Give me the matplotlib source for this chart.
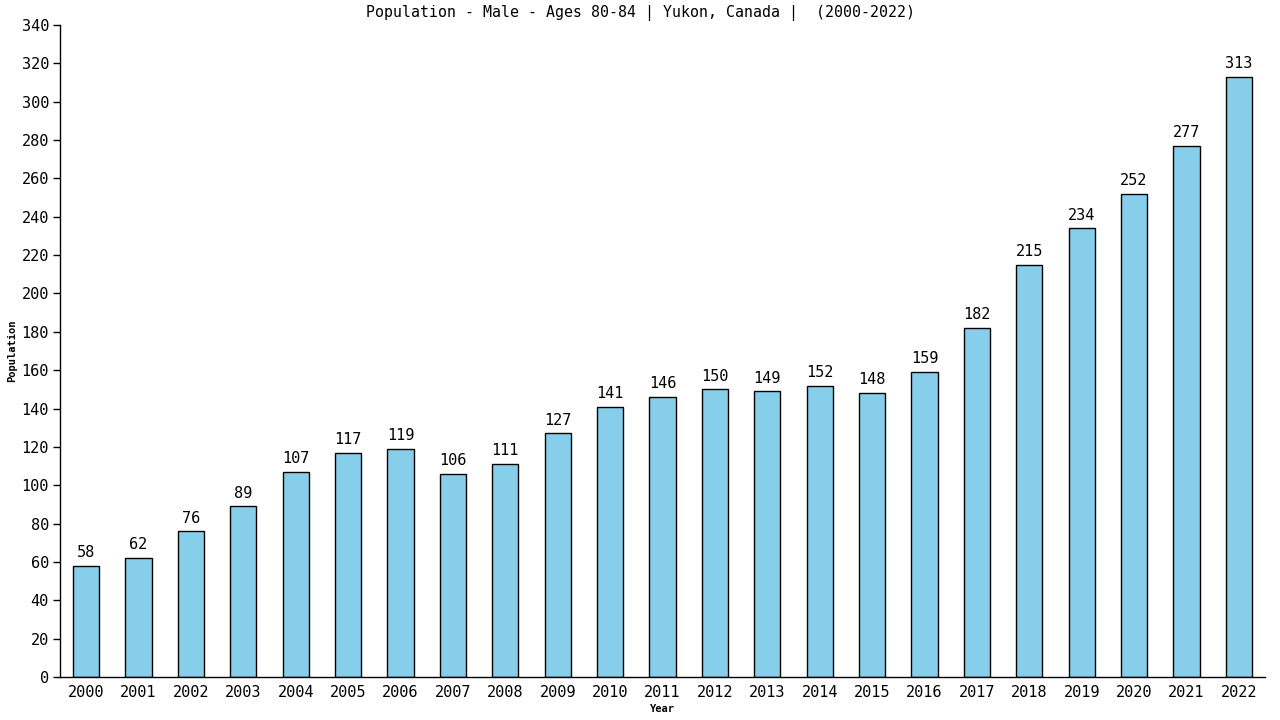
import matplotlib
matplotlib.use("Agg")
import matplotlib.pyplot as plt

years = [str(y) for y in range(2000, 2023)]
values = [58, 62, 76, 89, 107, 117, 119, 106, 111, 127, 141, 146, 150, 149, 152, 148, 159, 182, 215, 234, 252, 277, 313]
yticks = list(range(0, 341, 20))

plt.rcParams['font.family'] = ['DejaVu Sans Mono', 'DejaVu Sans']

fig = plt.figure(figsize=(12.8, 7.2), dpi=100)
ax = fig.add_axes([60/1280, 1-677/720, (1265-60)/1280, (677-25)/720])
x = list(range(len(years)))
ax.bar(x, values, width=0.5, color='#87CEEB', edgecolor='black', linewidth=1)
for xi, v in zip(x, values):
    ax.text(xi, v + 3, str(v), ha='center', va='bottom', fontsize=11)
ax.set_xlim(-0.5, len(years) - 0.5)
ax.set_ylim(0, 340)
ax.set_yticks(yticks)
ax.set_xticks(x)
ax.set_xticklabels(years)
ax.tick_params(axis='y', length=5, width=1, labelsize=11, pad=3)
ax.tick_params(axis='x', length=0, labelsize=11, pad=6)
for s in ['top', 'right']:
    ax.spines[s].set_visible(False)
for s in ['left', 'bottom']:
    ax.spines[s].set_linewidth(1)
ax.set_xlabel('Year', fontsize=7.5, fontweight='bold', labelpad=3)
ax.set_ylabel('Population', fontsize=7.5, fontweight='bold', labelpad=3)
fig.text(640/1280, 1-13/720, 'Population - Male - Ages 80-84 | Yukon, Canada |  (2000-2022)', ha='center', va='center', fontsize=10.7)
fig.savefig('out.png', dpi=100)
